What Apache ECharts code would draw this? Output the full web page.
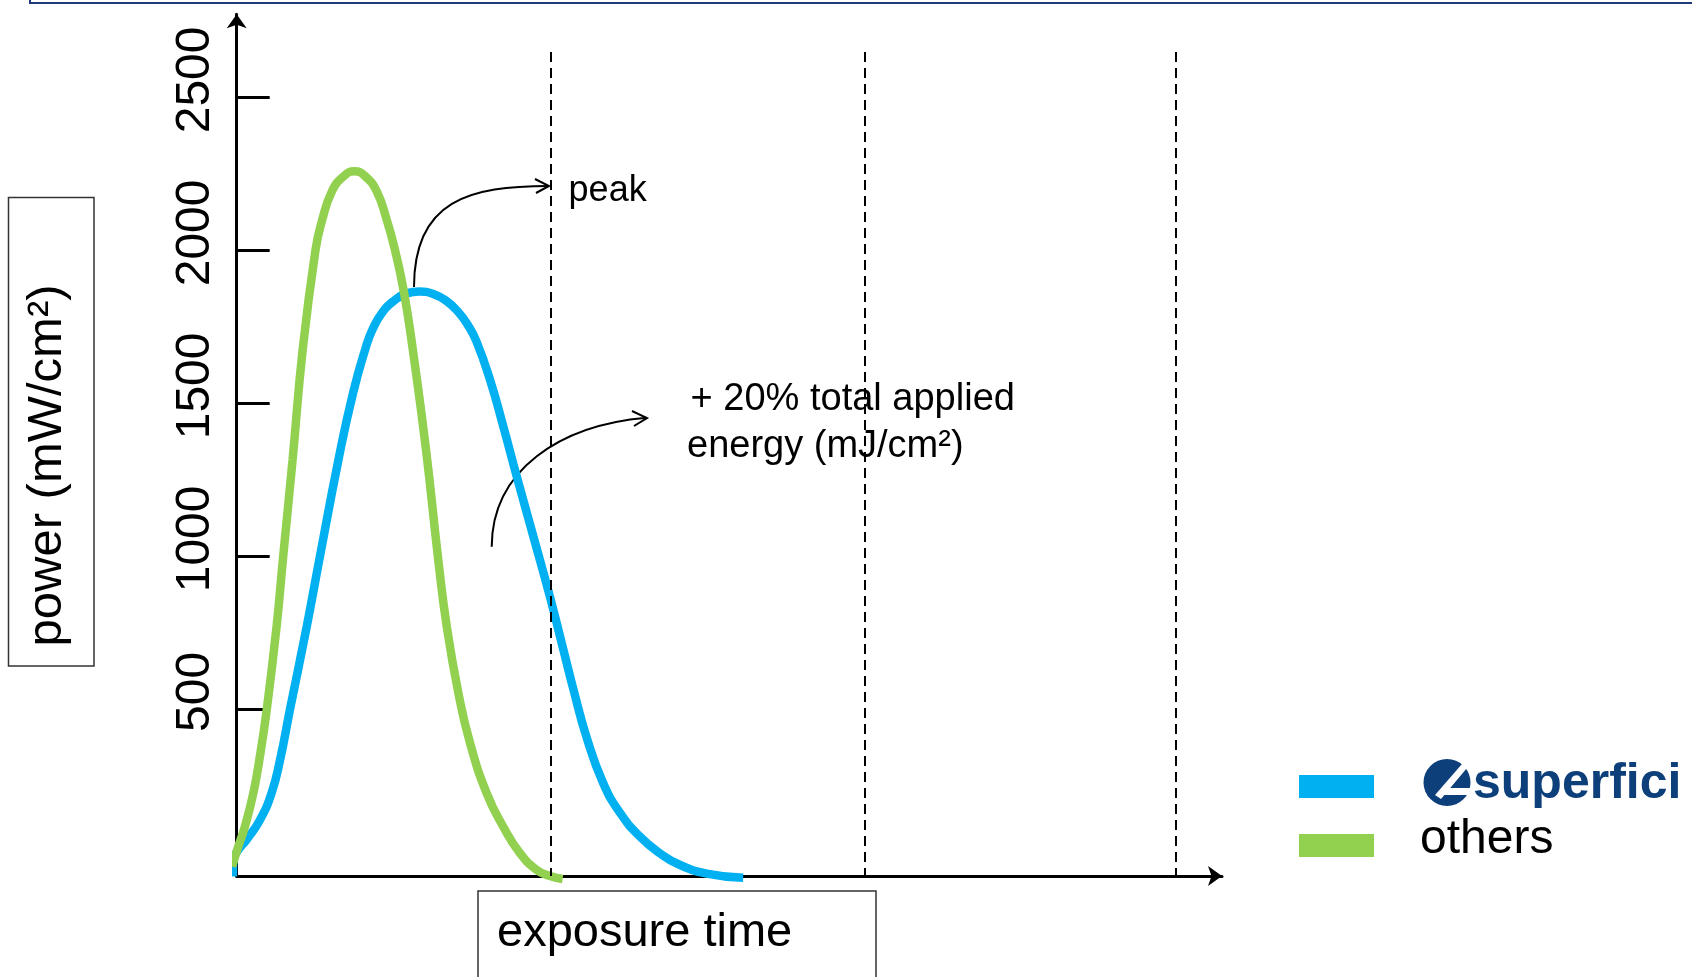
<!DOCTYPE html>
<html>
<head>
<meta charset="utf-8">
<script src="https://cdn.jsdelivr.net/npm/echarts@6/dist/echarts.min.js"></script>
<style>
  html, body { margin: 0; padding: 0; background: #ffffff; }
  #chart { width: 1692px; height: 977px; }
</style>
</head>
<body>
<div id="chart"></div>
<script>
// Irradiance profile over the exposure (time in units of the dashed markers)
const superficiTime = [-0.012, -0.011, 0.005, 0.031, 0.074, 0.111, 0.138, 0.170, 0.223, 0.265, 0.324, 0.370, 0.412, 0.432, 0.462, 0.501, 0.541, 0.582, 0.626, 0.667, 0.705, 0.736, 0.764, 0.807, 0.849, 0.892, 0.945, 0.998, 1.040, 1.072, 1.115, 1.167, 1.221, 1.284, 1.348, 1.412, 1.497, 1.613];
const superficiPower = [-48, 7, 39, 72, 137, 225, 333, 500, 769, 998, 1314, 1530, 1684, 1739, 1793, 1834, 1858, 1864, 1856, 1834, 1798, 1755, 1700, 1575, 1423, 1259, 1063, 865, 695, 565, 405, 258, 160, 83, 28, -10, -38, -52];

const othersTime = [-0.015, 0.005, 0.026, 0.053, 0.072, 0.096, 0.127, 0.148, 0.178, 0.210, 0.251, 0.271, 0.303, 0.340, 0.375, 0.410, 0.446, 0.478, 0.504, 0.533, 0.561, 0.603, 0.642, 0.669, 0.706, 0.743, 0.796, 0.849, 0.902, 0.955, 0.998, 1.038];
const othersPower = [-15, 50, 115, 225, 333, 500, 769, 998, 1314, 1673, 2000, 2093, 2191, 2240, 2257, 2240, 2191, 2098, 2000, 1860, 1673, 1346, 987, 769, 552, 389, 225, 115, 29, -26, -46, -56];

const powerTicks = [500, 1000, 1500, 2000, 2500];
const exposureMarks = [1, 2, 2.99];
const seriesNames = ['superfici', 'others'];

const BLUE = '#00B0F0';
const GREEN = '#92D050';
const NAVY = '#0D3F7A';

const yMin = -46, yMax = 2770, xMax = 3.138, markTop = 2647;

const pairs = (xs, ys) => xs.map((x, i) => [x, ys[i]]);

const chart = echarts.init(document.getElementById('chart'), null, { renderer: 'canvas' });

chart.setOption({
  animation: false,
  backgroundColor: '#ffffff',
  grid: { left: 236.7, right: 470, top: 14.3, bottom: 101, containLabel: false, outerBoundsMode: 'none' },
  xAxis: {
    type: 'value', min: 0, max: xMax,
    axisLine: { show: true, onZero: false, symbol: ['none', 'arrow'], symbolSize: [15, 14], lineStyle: { color: '#000', width: 3 } },
    axisTick: { show: false }, axisLabel: { show: false }, splitLine: { show: false }
  },
  yAxis: {
    type: 'value', min: yMin, max: yMax,
    axisLine: { show: true, onZero: false, symbol: ['none', 'arrow'], symbolSize: [15, 14], lineStyle: { color: '#000', width: 3 } },
    axisTick: { show: true, inside: true, length: 33, customValues: powerTicks, lineStyle: { color: '#000', width: 3 } },
    axisLabel: {
      show: true, customValues: powerTicks, rotate: 90, margin: 17,
      formatter: v => String(v),
      fontFamily: 'Liberation Sans', fontSize: 48, color: '#000',
      padding: [0, 0, 0, 34]
    },
    splitLine: { show: false }
  },
  legend: {
    data: seriesNames,
    orient: 'vertical', left: 1299, top: 753, padding: 0,
    icon: 'rect', itemWidth: 75, itemHeight: 23, itemGap: 4,
    selectedMode: false,
    textStyle: { fontFamily: 'Liberation Sans', fontSize: 48, color: '#000', lineHeight: 40, padding: [0, 0, 11, 41],
      rich: { logo: { fontFamily: 'Liberation Sans', fontWeight: 'bold', fontSize: 50, lineHeight: 40, color: NAVY, padding: [6, 0, 0, 53] } } },
    formatter: name => name === 'superfici' ? '{logo|superfici}' : name
  },
  series: [
    {
      name: seriesNames[0], type: 'line', data: pairs(superficiTime, superficiPower),
      showSymbol: false, symbol: 'none', smooth: 0.5, clip: false,
      itemStyle: { color: BLUE }, lineStyle: { color: BLUE, width: 8.5 },
      markLine: {
        silent: true, symbol: ['none', 'none'], label: { show: false },
        lineStyle: { color: '#000', width: 2, type: [10, 6] },
        data: exposureMarks.map(t => [{ coord: [t, markTop] }, { coord: [t, yMin] }])
      },
      z: 2
    },
    {
      name: seriesNames[1], type: 'line', data: pairs(othersTime, othersPower),
      showSymbol: false, symbol: 'none', smooth: 0.5, clip: false,
      itemStyle: { color: GREEN }, lineStyle: { color: GREEN, width: 8.5 },
      z: 3
    }
  ],
  graphic: [
    // frame edge along the top
    { type: 'polyline', shape: { points: [[30, 0], [30, 3], [1692, 3]] }, style: { stroke: '#1F3A7A', lineWidth: 2, fill: null } },
    // y-axis title box
    { type: 'rect', shape: { x: 8.5, y: 197.5, width: 85.5, height: 468.5 }, style: { fill: null, stroke: '#333', lineWidth: 1.5 } },
    { type: 'text', x: 47, y: 465.5, rotation: Math.PI / 2,
      style: { text: 'power (mW/cm²)', fontFamily: 'Liberation Sans', fontSize: 49, fill: '#000', align: 'center', verticalAlign: 'middle' } },
    // x-axis title box
    { type: 'rect', shape: { x: 478, y: 891, width: 398, height: 100 }, style: { fill: null, stroke: '#333', lineWidth: 1.5 } },
    { type: 'text', x: 497, y: 933, style: { text: 'exposure time', fontFamily: 'Liberation Sans', fontSize: 47, fill: '#000', align: 'left', verticalAlign: 'middle' } },
    // "peak" annotation
    { type: 'bezierCurve', shape: { x1: 414, y1: 287, cpx1: 414, cpy1: 200, cpx2: 470, cpy2: 186, x2: 549, y2: 186 }, style: { stroke: '#000', lineWidth: 2, fill: null } },
    { type: 'polyline', shape: { points: [[535, 179], [549, 186], [536, 193]] }, style: { stroke: '#000', lineWidth: 2, fill: null } },
    { type: 'text', x: 568.6, y: 191, style: { text: 'peak', fontFamily: 'Liberation Sans', fontSize: 36, fill: '#000', align: 'left', verticalAlign: 'middle' } },
    // energy annotation
    { type: 'bezierCurve', shape: { x1: 491.7, y1: 546.7, cpx1: 492, cpy1: 470, cpx2: 560, cpy2: 425, x2: 646.7, y2: 417.7 }, style: { stroke: '#000', lineWidth: 2, fill: null } },
    { type: 'polyline', shape: { points: [[632, 411], [647, 418], [634, 426]] }, style: { stroke: '#000', lineWidth: 2, fill: null } },
    { type: 'text', x: 690.6, y: 400, style: { text: '+ 20% total applied', fontFamily: 'Liberation Sans', fontSize: 38, fill: '#000', align: 'left', verticalAlign: 'middle' } },
    { type: 'text', x: 687, y: 446.5, style: { text: 'energy (mJ/cm²)', fontFamily: 'Liberation Sans', fontSize: 38, fill: '#000', align: 'left', verticalAlign: 'middle' } },
    // brand mark next to the first legend entry
    { type: 'circle', shape: { cx: 1447, cy: 782.5, r: 23.5 }, style: { fill: NAVY } },
    { type: 'polygon', shape: { points: [[1462, 764], [1467, 768], [1441, 799], [1435, 795]] }, style: { fill: '#fff' } },
    { type: 'polygon', shape: { points: [[1448, 788], [1472, 788], [1472, 795], [1443, 795]] }, style: { fill: '#fff' } }
  ]
});
</script>
</body>
</html>
